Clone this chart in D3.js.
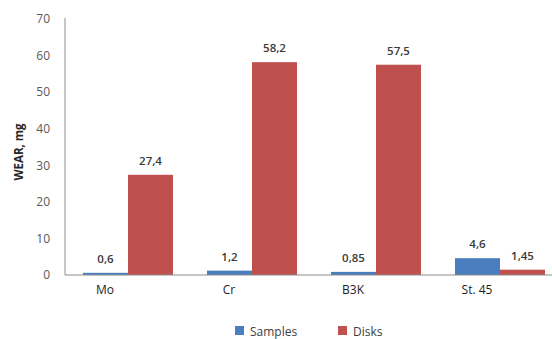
<!DOCTYPE html>
<html>
<head>
<meta charset="utf-8">
<script src="https://cdn.jsdelivr.net/npm/d3@7"></script>
<style>
  html, body { margin: 0; padding: 0; background: #fff; }
  svg { display: block; font-family: "Open Sans", "Liberation Sans", sans-serif; }
</style>
</head>
<body>
<svg id="chart" width="552" height="339"></svg>
<script>
// Wear per material
const categories = ["Mo", "Cr", "B3K", "St. 45"];
const seriesNames = ["Samples", "Disks"];
const samples = [0.6, 1.2, 0.85, 4.6];
const disks = [27.4, 58.2, 57.5, 1.45];
const sampleLabels = ["0,6", "1,2", "0,85", "4,6"];
const diskLabels = ["27,4", "58,2", "57,5", "1,45"];
const yTicks = [0, 10, 20, 30, 40, 50, 60, 70];
const colors = ["#4a7ebf", "#c0504d"];

const svg = d3.select("#chart");
const plotLeft = 65, plotTop = 18, plotBottom = 275;

const y = d3.scaleLinear().domain([0, 70]).range([plotBottom, plotTop + 1]);
const x = d3.scaleBand().domain(categories).range([66, 562])
  .paddingInner(0.274).paddingOuter(0.137);
const xs = d3.scaleBand().domain(seriesNames).range([0, x.bandwidth()]);

const rows = categories.map((c, i) => ({
  cat: c,
  vals: [
    { s: seriesNames[0], v: samples[i], label: sampleLabels[i] },
    { s: seriesNames[1], v: disks[i], label: diskLabels[i] }
  ]
}));

// bars
const g = svg.append("g");
const grp = g.selectAll("g.cat").data(rows).join("g")
  .attr("transform", d => `translate(${x(d.cat)},0)`);
grp.selectAll("rect").data(d => d.vals).join("rect")
  .attr("x", d => xs(d.s))
  .attr("width", xs.bandwidth())
  .attr("y", d => y(d.v))
  .attr("height", d => plotBottom - y(d.v))
  .attr("fill", (d, i) => colors[i]);

// value labels
grp.selectAll("text").data(d => d.vals).join("text")
  .attr("x", d => xs(d.s) + xs.bandwidth() / 2)
  .attr("y", d => y(d.v) - 10)
  .attr("text-anchor", "middle")
  .attr("font-size", 11.5)
  .attr("font-weight", 600)
  .attr("fill", "#3a3a3a")
  .text(d => d.label);

// y axis
const yAxis = d3.axisLeft(y).tickValues(yTicks).tickSize(0).tickPadding(15);
const ya = svg.append("g").attr("transform", `translate(${plotLeft},0)`).call(yAxis);
ya.select(".domain").attr("stroke", "#8c8c8c").attr("d", `M0,${plotTop}V${plotBottom}`);
ya.selectAll("text").attr("font-size", 12).attr("fill", "#595959")
  .attr("font-family", "'Open Sans', sans-serif");

// x axis
const xAxis = d3.axisBottom(x).tickSize(0).tickPadding(10);
const xa = svg.append("g").attr("transform", `translate(0,${plotBottom})`).call(xAxis);
xa.select(".domain").attr("stroke", "#8c8c8c").attr("d", `M${plotLeft},0H552`);
xa.selectAll("text").attr("font-size", 12).attr("fill", "#1e1e1e")
  .attr("font-weight", 500).attr("dx", -23)
  .attr("font-family", "'Open Sans', sans-serif");

// y title
svg.append("text")
  .attr("transform", "translate(23,152) rotate(-90)")
  .attr("text-anchor", "middle")
  .attr("font-size", 11.5)
  .attr("font-weight", 700)
  .attr("fill", "#262626")
  .text("WEAR, mg");

// legend
const lg = svg.append("g").selectAll("g").data(seriesNames).join("g")
  .attr("transform", (d, i) => `translate(${i === 0 ? 235 : 338},326)`);
lg.append("rect").attr("width", 9).attr("height", 9).attr("fill", (d, i) => colors[i]);
lg.append("text").attr("x", 15).attr("y", 9.5).attr("font-size", 12)
  .attr("fill", "#404040").text(d => d);
</script>
</body>
</html>
